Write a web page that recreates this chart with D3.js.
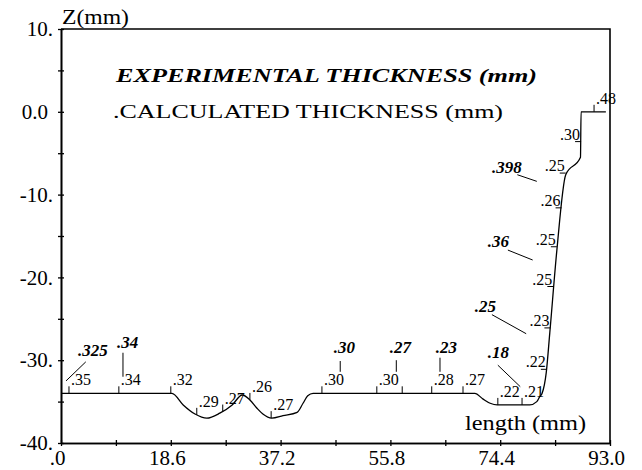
<!DOCTYPE html>
<html>
<head>
<meta charset="utf-8">
<script src="https://cdn.jsdelivr.net/npm/d3@7"></script>
<style>
    body { margin: 0; background: #fff; }
    svg { font-family: "Liberation Serif", "Times New Roman", serif; }
</style>
</head>
<body>
<svg id="chart-svg" width="642" height="470"></svg>
<script>
// Thickness profile along the part (length in mm, Z in mm)
const profileX = [0, 18.8, 20.7, 22.7, 24.7, 26.9, 29.0, 30.7, 32.0, 33.2, 34.2, 35.7, 37.6, 40.0, 41.0, 41.8, 42.7,
    70.1, 71.5, 72.7, 73.9, 79.4, 80.6, 81.1, 81.5, 82.2, 82.8, 84.0, 85.5, 88.0, 88.1, 92.3];
const profileZ = [-34, -34, -35.4, -36.5, -37.0, -36.4, -35.4, -34.2, -34.8, -35.8, -36.5, -37.0, -36.7, -36.3, -35.2, -34.3, -34,
    -34, -34.7, -35.2, -35.4, -35.4, -35.0, -34.4, -34, -31.5, -26.7, -16.7, -7.6, -5.5, 0, 0];

// Calculated thickness markers
const calcX = [1.35, 9.8, 18.6, 23.0, 27.4, 32.0, 35.6, 44.2, 53.5, 57.8, 62.8, 68.1, 74.0, 78.1,
    82.3, 82.9, 83.4, 84.0, 84.8, 85.5, 88.1, 90.3];
const calcZ = [-34, -34, -34, -36.6, -36.2, -34.8, -37.0, -34, -34, -34, -34, -34, -35.4, -35.4,
    -31.1, -26.1, -21.1, -16.3, -11.6, -7.4, -3.6, 0];
const calcLabels = [".35", ".34", ".32", ".29", ".27", ".26", ".27", ".30", ".30", "", ".28", ".27", ".22", ".21",
    ".22", ".23", ".25", ".25", ".26", ".25", ".30", ".48"];

// Experimental thickness labels and their leader lines
const expLabels = [".325", ".34", ".30", ".27", ".23", ".18", ".25", ".36", ".398"];
const expX = [2.9, 9.5, 46.2, 55.7, 63.5, 72.3, 70.1, 72.3, 73.0];
const expZ = [-29.5, -28.5, -29.1, -29.1, -29.1, -29.7, -24.2, -16.3, -7.4];
const leadX1 = [0.85, 10.5, 47.3, 56.8, 64.2, 74.0, 73.0, 75.7, 77.3];
const leadZ1 = [-32.5, -29.1, -30.1, -30.0, -29.7, -30.6, -24.5, -16.7, -7.6];
const leadX2 = [4.2, 10.5, 47.3, 56.8, 64.2, 77.8, 78.8, 79.9, 80.6];
const leadZ2 = [-30.2, -32.0, -31.4, -31.4, -31.4, -33.2, -26.8, -17.9, -8.4];

// Axis ticks
const xTicks = [0, 18.6, 37.2, 55.8, 74.4, 93.0];
const xTickLabels = [".0", "18.6", "37.2", "55.8", "74.4", "93.0"];
const xMinor = [9.3, 27.9, 46.5, 65.1, 83.7];
const yTicks = [10, 0, -10, -20, -30, -40];
const yTickLabels = ["10.", "0.0", "-10.", "-20.", "-30.", "-40."];
const yMinor = [5, -5, -15, -25, -35];

const svg = d3.select('#chart-svg');

const xScale = d3.scaleLinear().domain([0, 93]).range([61, 610]);
const yScale = d3.scaleLinear().domain([-40, 10]).range([443, 29]);

// Y axis, ticks cross the line
const yAll = yTicks.concat(yMinor);
svg.append("g")
    .attr("transform", "translate(61,0)")
    .call(d3.axisLeft(yScale).tickValues(yAll).tickSize(3).tickSizeOuter(0).tickPadding(5)
        .tickFormat(d => { const i = yTicks.indexOf(d); return i < 0 ? "" : yTickLabels[i]; }))
    .call(g => g.selectAll("text")
        .attr("font-family", "Liberation Serif").attr("font-size", 21).attr("fill", "#000")
        .attr("dx", function() { const t = d3.select(this).text(); return t.endsWith(".") || t === "" ? 0 : -5; }));
svg.append("g")
    .attr("transform", "translate(61,0)")
    .call(d3.axisRight(yScale).tickValues(yAll).tickSize(3).tickSizeOuter(0).tickFormat(""));

// X axis, same crossing ticks
const xAll = xTicks.concat(xMinor);
svg.append("g")
    .attr("transform", "translate(0,443)")
    .call(d3.axisBottom(xScale).tickValues(xAll).tickSize(3).tickSizeOuter(0).tickPadding(4)
        .tickFormat(d => { const i = xTicks.indexOf(d); return i < 0 ? "" : xTickLabels[i]; }))
    .call(g => g.selectAll("text")
        .attr("font-family", "Liberation Serif").attr("font-size", 21).attr("fill", "#000").attr("dx", -4));
svg.append("g")
    .attr("transform", "translate(0,443)")
    .call(d3.axisTop(xScale).tickValues(xAll).tickSize(3).tickSizeOuter(0).tickFormat(""));

svg.selectAll(".domain").attr("stroke-width", 1.6);
svg.selectAll(".tick line").attr("stroke-width", 1.3);

// Frame top and right
svg.append("path")
    .attr("d", `M${xScale(0)},${yScale(10)}H${xScale(93)}V${yScale(-40)}`)
    .attr("fill", "none").attr("stroke", "#000").attr("stroke-width", 1.6);

// Axis titles
svg.append("text").attr("x", 62).attr("y", 24)
    .attr("font-size", 22).attr("textLength", 67).attr("lengthAdjust", "spacingAndGlyphs")
    .text("Z(mm)");
svg.append("text").attr("x", 465).attr("y", 430)
    .attr("font-size", 22).attr("textLength", 121).attr("lengthAdjust", "spacingAndGlyphs")
    .text("length (mm)");

// Legend
svg.append("text").attr("x", 116).attr("y", 82)
    .attr("font-size", 18).attr("font-weight", "bold").attr("font-style", "italic")
    .attr("textLength", 421).attr("lengthAdjust", "spacingAndGlyphs")
    .text("EXPERIMENTAL THICKNESS (mm)");
svg.append("text").attr("x", 113).attr("y", 118)
    .attr("font-size", 18)
    .attr("textLength", 390).attr("lengthAdjust", "spacingAndGlyphs")
    .text(".CALCULATED THICKNESS (mm)");

// Profile line
const profile = profileX.map((x, i) => ({x: x, z: profileZ[i]}));
svg.append("path")
    .datum(profile)
    .attr("fill", "none")
    .attr("stroke", "#000")
    .attr("stroke-width", 1.3)
    .attr("d", d3.line()
        .curve(d3.curveMonotoneX)
        .x(d => xScale(d.x))
        .y(d => yScale(d.z)));

// Calculated markers: on the steep wall the tick points left, elsewhere up
const calc = calcX.map((x, i) => ({x: x, z: calcZ[i], label: calcLabels[i], wall: x > 82 && x < 89}));
const cg = svg.append("g");
cg.selectAll("line")
    .data(calc)
    .join("line")
    .attr("x1", d => xScale(d.x))
    .attr("y1", d => yScale(d.z))
    .attr("x2", d => d.wall ? xScale(d.x) - 6 : xScale(d.x))
    .attr("y2", d => d.wall ? yScale(d.z) : yScale(d.z) - 7)
    .attr("stroke", "#000").attr("stroke-width", 1);
cg.selectAll("text")
    .data(calc)
    .join("text")
    .attr("x", d => d.wall ? xScale(d.x) - 1 : xScale(d.x) + 2)
    .attr("y", d => d.wall ? yScale(d.z) - 2 : yScale(d.z) - 8)
    .attr("text-anchor", d => d.wall ? "end" : "start")
    .attr("font-size", 16)
    .text(d => d.label);

// Experimental labels with leaders
const exp = expLabels.map((t, i) => ({t: t, x: expX[i], z: expZ[i], x1: leadX1[i], z1: leadZ1[i], x2: leadX2[i], z2: leadZ2[i]}));
const eg = svg.append("g");
eg.selectAll("line")
    .data(exp)
    .join("line")
    .attr("x1", d => xScale(d.x1)).attr("y1", d => yScale(d.z1))
    .attr("x2", d => xScale(d.x2)).attr("y2", d => yScale(d.z2))
    .attr("stroke", "#000").attr("stroke-width", 1);
eg.selectAll("text")
    .data(exp)
    .join("text")
    .attr("x", d => xScale(d.x))
    .attr("y", d => yScale(d.z))
    .attr("font-size", 17).attr("font-weight", "bold").attr("font-style", "italic")
    .text(d => d.t);
</script>
</body>
</html>
